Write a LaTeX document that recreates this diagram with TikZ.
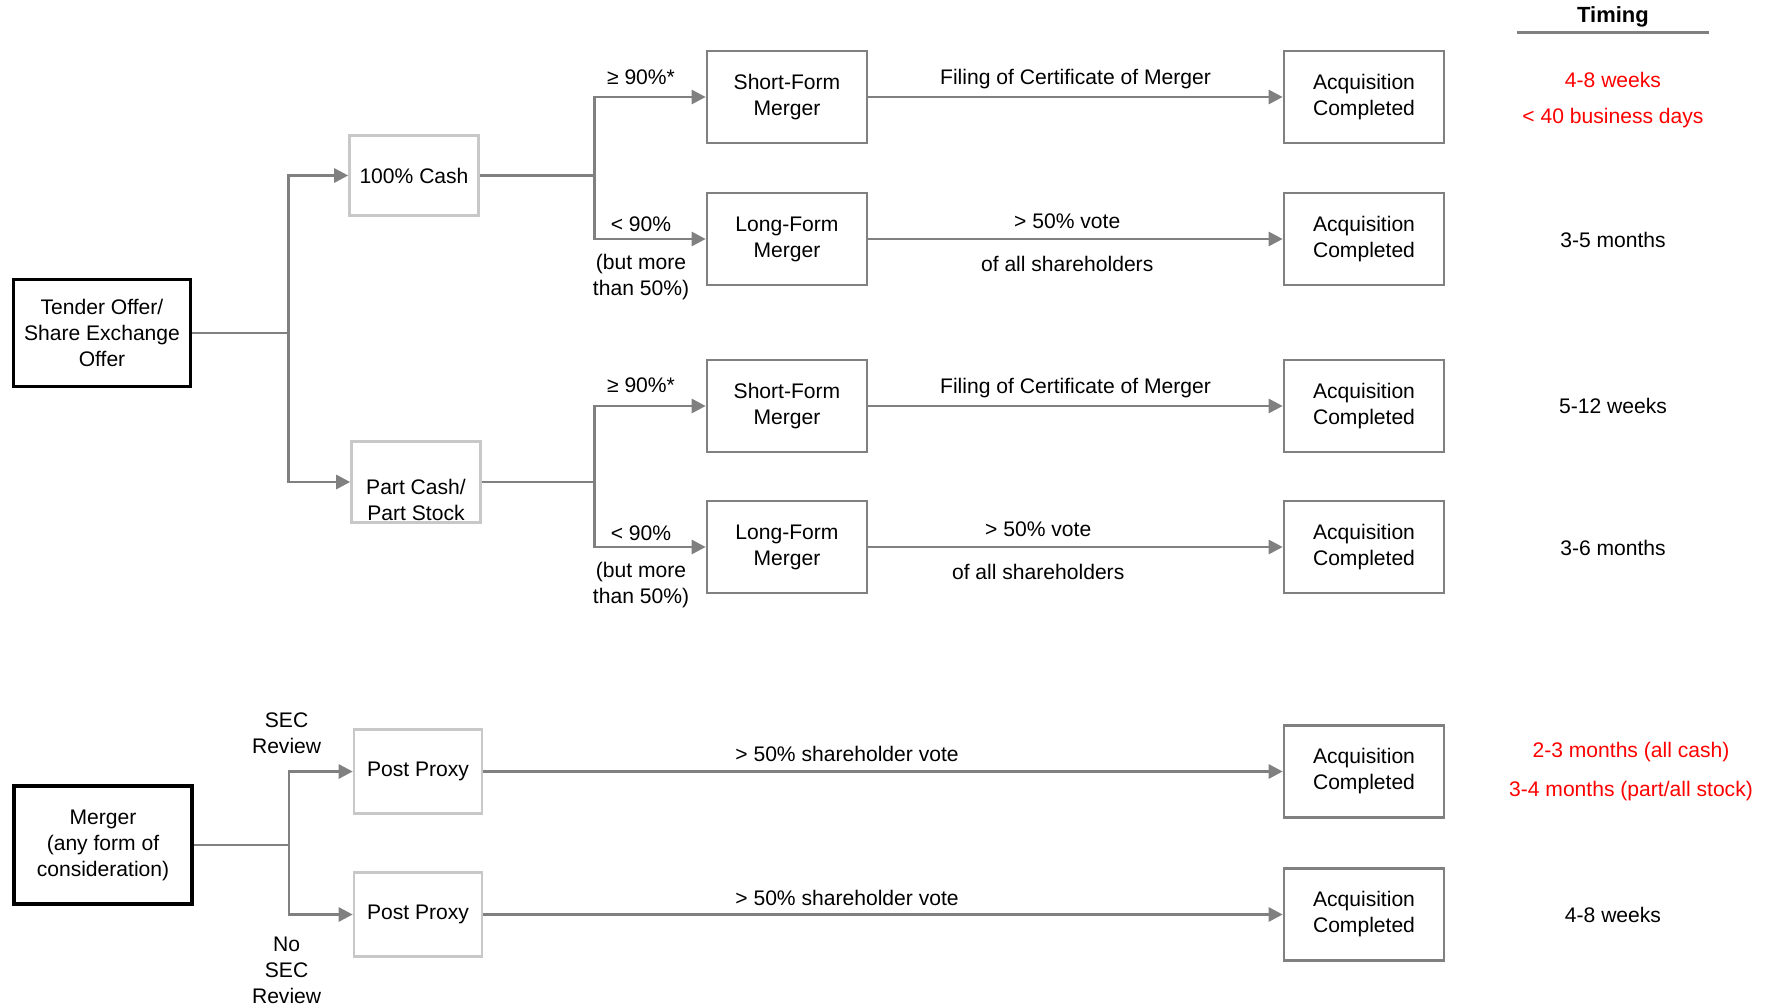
\documentclass[tikz,border=0pt]{standalone}
\usepackage{fontspec}
\setmainfont{Liberation Sans}
\usetikzlibrary{arrows.meta}
\definecolor{linegray}{RGB}{128,128,128}
\definecolor{lightgray}{RGB}{200,200,200}
\begin{document}
\begin{tikzpicture}[x=0.02cm, y=-0.02cm, >={Triangle[length=8pt,width=8pt]},
	font=\fontsize{12}{14.8}\selectfont,
	conn/.style={draw=linegray, line width=1.6pt},
	arr/.style={conn, ->},
	mainbox/.style={draw=black, line width=2.2pt, align=center},
	formbox/.style={draw=linegray, line width=1.5pt, align=center, minimum width=3.2cm, minimum height=1.84cm},
	paybox/.style={draw=lightgray, line width=1.5pt, align=center, minimum width=2.58cm, minimum height=1.6cm},
	txt/.style={align=center, inner sep=1pt}]
	\useasboundingbox (0,0) rectangle (1769,1007);
	\node[mainbox, minimum width=3.54cm, minimum height=2.14cm] (tender) at (102,333) {Tender Offer/\\Share Exchange\\Offer};
	\node[mainbox, minimum width=3.56cm, minimum height=2.36cm] (merger) at (103,845) {Merger\\(any form of\\consideration)};
	\node[paybox] (cash) at (414,175.5) {100\% Cash};
	\node[paybox, minimum height=1.62cm] (part) at (416,482) {};
	\node[txt, yshift=-10pt] (parttxt) at (part.center) {Part Cash/\\Part Stock};
	\node[paybox, minimum width=2.56cm, minimum height=1.68cm] (pp1) at (418,771.5) {Post Proxy};
	\node[paybox, minimum width=2.56cm, minimum height=1.68cm] (pp2) at (418,914.5) {Post Proxy};
	\node[formbox] (sf1) at (787,97) {Short-Form\\Merger};
	\node[formbox] (lf1) at (787,239) {Long-Form\\Merger};
	\node[formbox] (sf2) at (787,406) {Short-Form\\Merger};
	\node[formbox] (lf2) at (787,547) {Long-Form\\Merger};
	\foreach \n/\y in {acq1/97,acq2/239,acq3/406,acq4/547,acq5/771.5,acq6/914.5}{
		\node[formbox] (\n) at (1364,\y) {Acquisition\\Completed};
	}
	\draw[conn] (tender.east) -- ++(96,0) coordinate (t1);
	\draw[arr] (t1) |- (cash.west);
	\draw[arr] (t1) |- (part.west);
	\draw[conn] (cash.east) -- ++(115,0) coordinate (t2);
	\draw[arr] (t2) |- (sf1.west);
	\draw[arr] (t2) |- (lf1.west);
	\draw[conn] (part.east) -- ++(113,0) coordinate (t3);
	\draw[arr] (t3) |- (sf2.west);
	\draw[arr] (t3) |- (lf2.west);
	\draw[conn] (merger.east) -- ++(95,0) coordinate (t4);
	\draw[arr] (t4) |- (pp1.west);
	\draw[arr] (t4) |- (pp2.west);
	\draw[arr] (sf1.east) -- node[txt, above=3pt] (f1) {Filing of Certificate of Merger} (acq1.west);
	\draw[arr] (lf1.east) -- node[txt, pos=0.48, above=4pt] (v1) {> 50\% vote}
		node[txt, pos=0.48, below=8pt] (s1) {of all shareholders} (acq2.west);
	\draw[arr] (sf2.east) -- node[txt, above=3pt] (f2) {Filing of Certificate of Merger} (acq3.west);
	\draw[arr] (lf2.east) -- node[txt, pos=0.41, above=4pt] (v2) {> 50\% vote}
		node[txt, pos=0.41, below=8pt] (s2) {of all shareholders} (acq4.west);
	\draw[arr] (pp1.east) -- node[txt, pos=0.455, above=4pt] (v3) {> 50\% shareholder vote} (acq5.west);
	\draw[arr] (pp2.east) -- node[txt, pos=0.455, above=3pt] (v4) {> 50\% shareholder vote} (acq6.west);
	\node[txt] (ge1) at (641,77) {≥ 90\%*};
	\node[txt] (lt1) at (641,224.5) {< 90\%};
	\node[txt] (bm1) at (641,277) {(but more\\than 50\%)};
	\node[txt] (ge2) at (641,385) {≥ 90\%*};
	\node[txt] (lt2) at (641,533) {< 90\%};
	\node[txt] (bm2) at (641,585) {(but more\\than 50\%)};
	\node[txt] (sec) at (286.6,733) {SEC\\Review};
	\node[txt] (nosec) at (286.6,970.5) {No\\SEC\\Review};
	\node[txt, font=\fontsize{12.5}{14.8}\selectfont\bfseries] (timing) at (1613,17) {Timing};
	\draw[conn] (1517,32.7) coordinate (ua) -- (1709,32.7) coordinate (ub);
	\foreach \x/\y/\t/\c [count=\i] in {1613/80/4-8 weeks/red, 1613/118.5/{< 40 business days}/red,
		1613/240/3-5 months/black, 1613/406/5-12 weeks/black, 1613/548/3-6 months/black,
		1631/752.5/{2-3 months (all cash)}/red, 1631/791/{3-4 months (part/all stock)}/red,
		1613/915/4-8 weeks/black}{
		\node[txt, text=\c] (tm\i) at (\x,\y) {\t};
	}
\end{tikzpicture}
\end{document}
